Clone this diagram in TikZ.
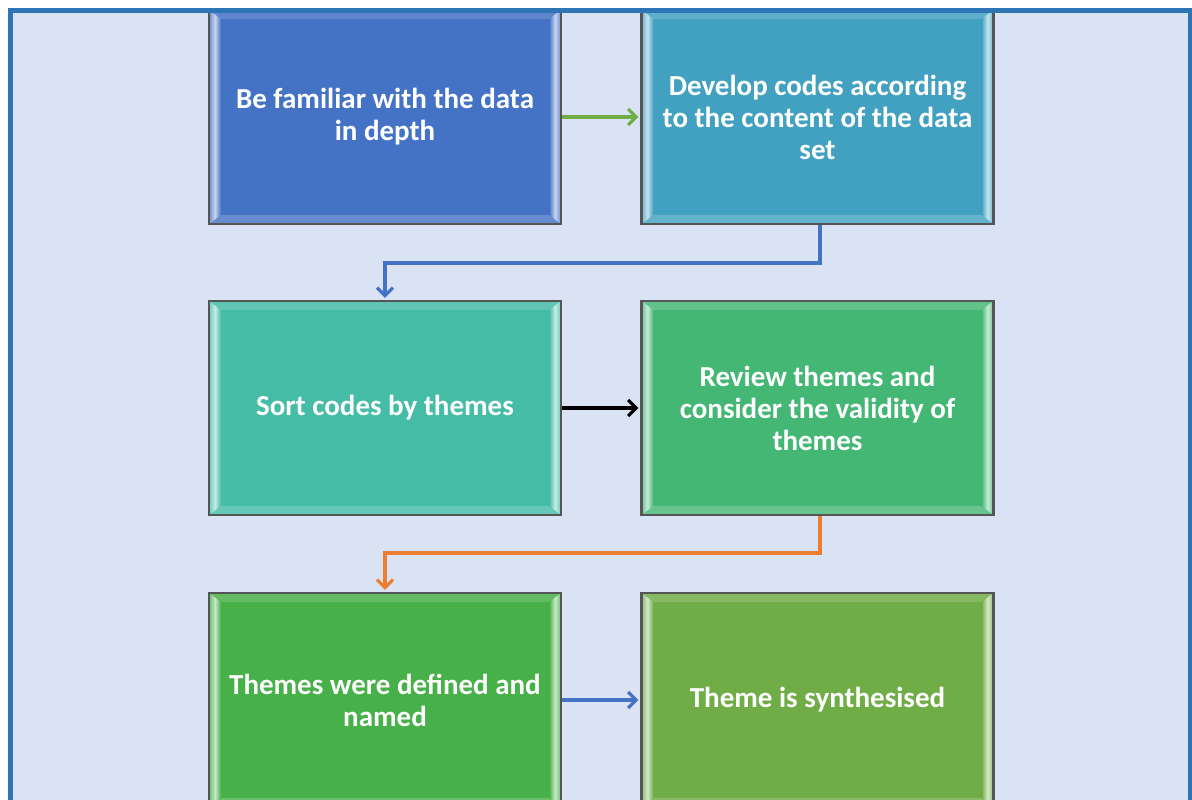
\documentclass[tikz,border=0pt]{standalone}
\usepackage{fontspec}
\setmainfont{Carlito}
\usetikzlibrary{arrows.meta}
\definecolor{framecol}{HTML}{2E75B6}
\definecolor{bgcol}{HTML}{DAE3F3}
\definecolor{edgecol}{HTML}{555555}
\definecolor{cA}{HTML}{4472C4}
\definecolor{cB}{HTML}{42A1C1}
\definecolor{cC}{HTML}{44BCA6}
\definecolor{cD}{HTML}{45B775}
\definecolor{cE}{HTML}{47B049}
\definecolor{cF}{HTML}{70AD47}
\definecolor{arrOrange}{HTML}{ED7D31}
\tikzset{
  x=1pt, y=1pt,
  stepbox/.style={draw=edgecol, line width=2.4pt, fill=#1,
    minimum width=352pt, minimum height=214pt, inner sep=0pt,
    text=white, align=center,
    font=\fontsize{29}{32}\selectfont\bfseries,
    path picture={
      \path (path picture bounding box.south west) coordinate (sw)
            (path picture bounding box.north east) coordinate (ne)
            (path picture bounding box.south east) coordinate (se)
            (path picture bounding box.north west) coordinate (nw);
      \fill[#1!82!white] (sw) -- (se) -- ([shift={(-12pt,9pt)}]se) -- ([shift={(12pt,9pt)}]sw) -- cycle;
      \fill[#1!85!white] (nw) -- (ne) -- ([shift={(-12pt,-9pt)}]ne) -- ([shift={(12pt,-9pt)}]nw) -- cycle;
      \shade[left color=#1!80!white, right color=#1, middle color=#1!30!white]
        (sw) -- ([shift={(12pt,9pt)}]sw) -- ([shift={(12pt,-9pt)}]nw) -- (nw) -- cycle;
      \shade[left color=#1, right color=#1!80!white, middle color=#1!30!white]
        (se) -- ([shift={(-12pt,9pt)}]se) -- ([shift={(-12pt,-9pt)}]ne) -- (ne) -- cycle;
    }},
  conn/.style={line width=3.2pt, -{Straight Barb[length=8pt,width=16pt,line width=3.2pt]}}
}
\begin{document}
\begin{tikzpicture}
\useasboundingbox (0,0) rectangle (1192,800);
\clip (0,0) rectangle (1192,800);
\fill[white] (0,0) rectangle (1192,800);
\fill[bgcol] (10.5,-50) rectangle (1190.5,789.5);
\begin{scope}
\clip (13,0) rectangle (1188,787);
\node[stepbox=cA] (b1) at (385,683) {Be familiar with the data\\in depth};
\node[stepbox=cB] (b2) at (817.5,683) {Develop codes according\\to the content of the data\\set};
\node[stepbox=cC] (b3) at (385,392) {Sort codes by themes};
\node[stepbox=cD] (b4) at (817.5,392) {Review themes and\\consider the validity of\\themes};
\node[stepbox=cE] (b5) at (385,100) {Themes were defined and\\named};
\node[stepbox=cF] (b6) at (817.5,100) {Theme is synthesised};
\draw[conn, color=cF] (b1.east) -- ([xshift=-2pt]b2.west);
\draw[conn, color=cA] ([xshift=2.5pt]b2.south) |- (385,537) -- ([yshift=2pt]b3.north);
\draw[conn, color=black] (b3.east) -- ([xshift=-2pt]b4.west);
\draw[conn, color=arrOrange] ([xshift=2.5pt]b4.south) |- (385,247) -- ([yshift=2pt]b5.north);
\draw[conn, color=cA] (b5.east) -- ([xshift=-2pt]b6.west);
\end{scope}
\draw[framecol, line width=5pt] (10.5,-50) -- (10.5,789.5) -- (1190.5,789.5) -- (1190.5,-50);
\end{tikzpicture}
\end{document}
